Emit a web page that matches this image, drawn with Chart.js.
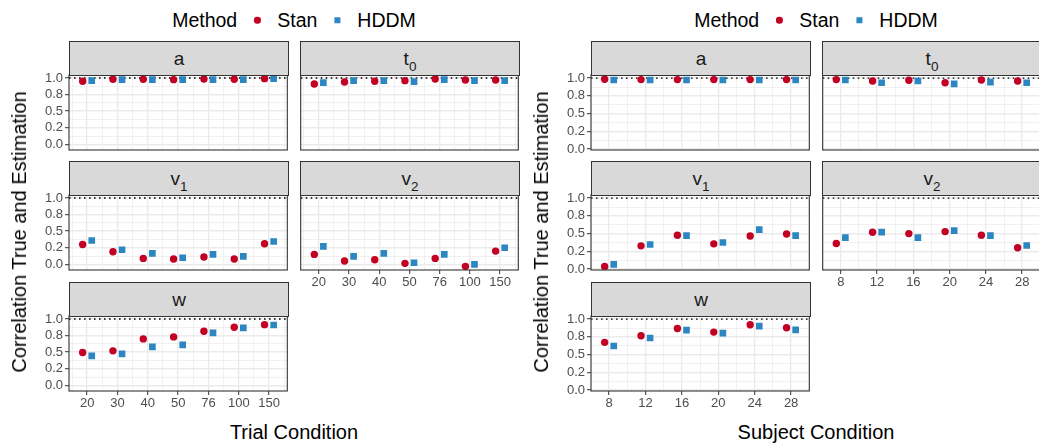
<!DOCTYPE html>
<html>
<head>
<meta charset="utf-8">
<script src="https://cdn.jsdelivr.net/npm/chart.js@4.4.1/dist/chart.umd.min.js"></script>
<style>
  body { margin: 0; width: 1039px; height: 444px; overflow: hidden; background: #fff;
         position: relative; font-family: "Liberation Sans", Arial, sans-serif; }
  canvas { position: absolute; }
  .strip { position: absolute; box-sizing: border-box; background: #d9d9d9; border: 1px solid #333;
           display: flex; align-items: center; justify-content: center; font-size: 19px; color: #1a1a1a; }
  .strip sub { font-size: 13.5px; position: relative; top: 2px; vertical-align: -4px; line-height: 0; }
  .legend { position: absolute; top: 9px; transform: translateX(-50%); white-space: nowrap;
            font-size: 19.5px; line-height: 22px; color: #000; display: flex; align-items: center; }
  .key { display: inline-block; width: 40px; height: 22px; position: relative; }
  .key i { position: absolute; left: 50%; top: 50%; transform: translate(-50%, -50%); }
  .dot { width: 6.5px; height: 6.5px; border-radius: 50%; background: #c20023; }
  .sq { width: 5.5px; height: 5.5px; background: #2c86c1; }
  .ytitle { position: absolute; top: 232px; white-space: nowrap; font-size: 20px; line-height: 22px;
            transform: translate(-50%, -50%) rotate(-90deg); }
  .xtitle { position: absolute; top: 422px; white-space: nowrap; font-size: 20px; line-height: 20px;
            transform: translateX(-50%); }
</style>
</head>
<body>
<script>
// x categories
const trialConditions = ["20", "30", "40", "50", "76", "100", "150"];
const subjectConditions = ["8", "12", "16", "20", "24", "28"];

// y axis ticks (labels as printed in the figure)
const yTickValues = [0, 0.25, 0.5, 0.75, 1];
const yTickLabels = ["0.0", "0.2", "0.5", "0.8", "1.0"];
const referenceLevel = 1;

// trial condition
const trialStanA  = [0.95, 0.98, 0.98, 0.975, 0.985, 0.98, 0.99];
const trialHddmA  = [0.96, 0.975, 0.975, 0.975, 0.975, 0.975, 0.99];
const trialStanT0 = [0.91, 0.94, 0.95, 0.96, 0.985, 0.97, 0.97];
const trialHddmT0 = [0.93, 0.96, 0.96, 0.945, 0.975, 0.96, 0.96];
const trialStanV1 = [0.30, 0.19, 0.09, 0.08, 0.11, 0.08, 0.31];
const trialHddmV1 = [0.36, 0.22, 0.165, 0.10, 0.15, 0.12, 0.345];
const trialStanV2 = [0.15, 0.05, 0.07, 0.015, 0.09, -0.03, 0.20];
const trialHddmV2 = [0.27, 0.12, 0.165, 0.025, 0.15, 0.0, 0.25];
const trialStanW  = [0.495, 0.52, 0.70, 0.73, 0.815, 0.875, 0.915];
const trialHddmW  = [0.445, 0.475, 0.58, 0.61, 0.79, 0.865, 0.91];

// subject condition
const subjStanA  = [0.985, 0.98, 0.98, 0.98, 0.98, 0.98];
const subjHddmA  = [0.975, 0.975, 0.975, 0.975, 0.975, 0.975];
const subjStanT0 = [0.98, 0.96, 0.97, 0.935, 0.975, 0.96];
const subjHddmT0 = [0.975, 0.935, 0.96, 0.92, 0.945, 0.935];
const subjStanV1 = [0.037, 0.327, 0.477, 0.355, 0.467, 0.495];
const subjHddmV1 = [0.065, 0.346, 0.472, 0.374, 0.556, 0.472];
const subjStanV2 = [0.36, 0.52, 0.50, 0.528, 0.477, 0.30];
const subjHddmV2 = [0.444, 0.52, 0.444, 0.542, 0.472, 0.332];
const subjStanW  = [0.673, 0.766, 0.869, 0.818, 0.921, 0.879];
const subjHddmW  = [0.621, 0.734, 0.846, 0.804, 0.902, 0.850];

const STAN = "#c20023";
const HDDM = "#2c86c1";
const FONT = "'Liberation Sans', Arial, sans-serif";

const facets = [
  { key: "a",  html: "a" },
  { key: "t0", html: "t<sub>0</sub>" },
  { key: "v1", html: "v<sub>1</sub>" },
  { key: "v2", html: "v<sub>2</sub>" },
  { key: "w",  html: "w" },
];

const sides = [
  {
    cats: trialConditions, title: "Trial Condition",
    series: { a: [trialStanA, trialHddmA], t0: [trialStanT0, trialHddmT0], v1: [trialStanV1, trialHddmV1],
              v2: [trialStanV2, trialHddmV2], w: [trialStanW, trialHddmW] },
    colX: [69, 300], xMin: -0.6, xMax: 6.6, dodge: 0.15, yMin: -0.085, yMax: 1.045, yTitleX: 19,
  },
  {
    cats: subjectConditions, title: "Subject Condition",
    series: { a: [subjStanA, subjHddmA], t0: [subjStanT0, subjHddmT0], v1: [subjStanV1, subjHddmV1],
              v2: [subjStanV2, subjHddmV2], w: [subjStanW, subjHddmW] },
    colX: [591, 822], xMin: -0.5, xMax: 5.5, dodge: 0.125, yMin: -0.014, yMax: 1.045, yTitleX: 541,
  },
];

const PANEL_W = 219, STRIP_H = 34, PLOT_H = 75;
const stripTops = [41, 161, 282];

const isMajor = (v) => Math.abs(v - Math.round(v * 4) / 4) < 1e-6;
const isInt = (v) => Math.abs(v - Math.round(v)) < 1e-6;

const panelDecor = {
  id: "panelDecor",
  beforeDatasetsDraw(chart) {
    const { ctx, chartArea: a, scales } = chart;
    const y = scales.y.getPixelForValue(referenceLevel);
    ctx.save();
    ctx.strokeStyle = "#000";
    ctx.lineWidth = 1.3;
    ctx.setLineDash([1.6, 3.4]);
    ctx.beginPath();
    ctx.moveTo(a.left, y);
    ctx.lineTo(a.right, y);
    ctx.stroke();
    ctx.restore();
  },
  afterDraw(chart) {
    const { ctx, chartArea: a } = chart;
    ctx.save();
    ctx.strokeStyle = "#333";
    ctx.lineWidth = 1.1;
    ctx.strokeRect(a.left, a.top, a.right - a.left, a.bottom - a.top);
    ctx.restore();
  },
};

function makePanel(side, facet, idx) {
  const row = Math.floor(idx / 2), col = idx % 2;
  const hasY = col === 0;
  const hasX = row === 2 || (row === 1 && col === 1);
  const x0 = side.colX[col], stripTop = stripTops[row], plotTop = stripTop + STRIP_H;

  const strip = document.createElement("div");
  strip.className = "strip";
  strip.innerHTML = "<span>" + facet.html + "</span>";
  Object.assign(strip.style, { left: x0 + "px", top: stripTop + "px", width: PANEL_W + 1 + "px", height: STRIP_H + 1 + "px" });

  const padL = hasY ? 40 : 4, padT = 12, padR = 4, padB = hasX ? 24 : 12;
  const cv = document.createElement("canvas");
  cv.width = padL + PANEL_W + padR;
  cv.height = padT + PLOT_H + padB;
  cv.style.left = x0 - padL + "px";
  cv.style.top = plotTop - padT + "px";
  document.body.appendChild(cv);
  document.body.appendChild(strip);

  const n = side.cats.length;
  const xTicks = [];
  for (let k = -1; k <= 2 * n - 1; k++) xTicks.push(k / 2);
  const yTicks = [];
  for (let k = 0; k <= 8; k++) yTicks.push(k / 8);

  const [stan, hddm] = side.series[facet.key];

  new Chart(cv, {
    type: "scatter",
    data: {
      datasets: [
        { label: "Stan", data: stan.map((v, i) => ({ x: i - side.dodge, y: v })), pointStyle: "circle",
          pointRadius: 3.7, backgroundColor: STAN, borderWidth: 0 },
        { label: "HDDM", data: hddm.map((v, i) => ({ x: i + side.dodge, y: v })), pointStyle: "rect",
          pointRadius: 4.7, backgroundColor: HDDM, borderWidth: 0 },
      ],
    },
    options: {
      responsive: false,
      animation: false,
      events: [],
      layout: { padding: { left: hasY ? 0 : padL, top: padT, right: padR, bottom: hasX ? 0 : padB } },
      plugins: { legend: { display: false }, tooltip: { enabled: false } },
      scales: {
        x: {
          type: "linear", min: side.xMin, max: side.xMax,
          afterBuildTicks: (s) => { s.ticks = xTicks.map((v) => ({ value: v })); },
          afterFit: (s) => { s.height = hasX ? padB : 0; },
          border: { display: false },
          grid: {
            color: "#ebebeb",
            lineWidth: (c) => (c.tick && isInt(c.tick.value) ? 1.4 : 0.7),
            drawTicks: hasX, tickLength: 4, tickWidth: 1,
            tickColor: (c) => (c.tick && isInt(c.tick.value) ? "#333" : "rgba(0,0,0,0)"),
          },
          ticks: {
            display: hasX, autoSkip: false, maxRotation: 0, padding: 1, color: "#4d4d4d",
            font: { family: FONT, size: 13 },
            callback: (v) => (isInt(v) ? side.cats[Math.round(v)] : ""),
          },
        },
        y: {
          min: side.yMin, max: side.yMax,
          afterBuildTicks: (s) => { s.ticks = yTicks.map((v) => ({ value: v })); },
          afterFit: (s) => { s.width = hasY ? padL : 0; },
          border: { display: false },
          grid: {
            color: "#ebebeb",
            lineWidth: (c) => (c.tick && isMajor(c.tick.value) ? 1.4 : 0.7),
            drawTicks: hasY, tickLength: 4, tickWidth: 1,
            tickColor: (c) => (c.tick && isMajor(c.tick.value) ? "#333" : "rgba(0,0,0,0)"),
          },
          ticks: {
            display: hasY, autoSkip: false, padding: 2, color: "#4d4d4d",
            font: { family: FONT, size: 13 },
            callback: (v) => {
              const j = yTickValues.findIndex((t) => Math.abs(t - v) < 1e-6);
              return j >= 0 ? yTickLabels[j] : "";
            },
          },
        },
      },
    },
    plugins: [panelDecor],
  });
}

sides.forEach((side) => {
  facets.forEach((f, i) => makePanel(side, f, i));
  const centre = (side.colX[0] + side.colX[1] + PANEL_W) / 2;

  const legend = document.createElement("div");
  legend.className = "legend";
  legend.style.left = centre + "px";
  legend.innerHTML = 'Method<span class="key"><i class="dot"></i></span>Stan<span class="key"><i class="sq"></i></span>HDDM';
  document.body.appendChild(legend);

  const xt = document.createElement("div");
  xt.className = "xtitle";
  xt.style.left = centre + "px";
  xt.textContent = side.title;
  document.body.appendChild(xt);

  const yt = document.createElement("div");
  yt.className = "ytitle";
  yt.style.left = side.yTitleX + "px";
  yt.textContent = "Correlation True and Estimation";
  document.body.appendChild(yt);
});
</script>
</body>
</html>
